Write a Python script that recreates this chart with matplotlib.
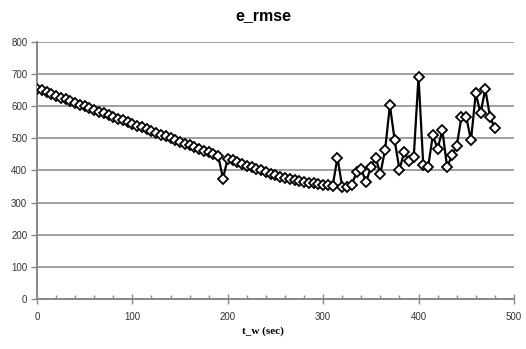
import matplotlib
matplotlib.use('Agg')
import matplotlib.pyplot as plt
from matplotlib.ticker import MultipleLocator

# tiempo (s) y error rmse
t_w = list(range(0, 485, 5))
e_rmse = [655, 649, 644, 638, 633, 627, 622, 616, 611, 605,
          600, 594, 589, 583, 578, 572, 567, 561, 556, 550,
          545, 539, 534, 528, 523, 517, 512, 506, 501, 495,
          490, 484, 479, 473, 468, 462, 457, 451, 446, 375,
          437, 432, 426, 421, 415, 410, 405, 400, 395, 390,
          385, 381, 377, 373, 370, 367, 364, 362, 360, 358,
          356, 354, 352, 440, 350, 348, 355, 395, 405, 363,
          410, 440, 390, 465, 603, 494, 403, 457, 431, 442,
          692, 416, 410, 509, 468, 525, 410, 447, 475, 567,
          567, 494, 640, 578, 653, 567, 531]

y_ticks = list(range(0, 900, 100))
x_ticks = list(range(0, 600, 100))

fig = plt.figure(figsize=(5.26, 3.49), dpi=100)
ax = fig.add_axes([0.0703, 0.1433, 0.9067, 0.7364])

ax.plot(t_w, e_rmse, color='black', linewidth=1.6, marker='D', markersize=4.8,
        markerfacecolor='white', markeredgecolor='black', markeredgewidth=1.3, zorder=3)

ax.set_xlim(0, 500)
ax.set_ylim(0, 800)
ax.set_xticks(x_ticks)
ax.set_yticks(y_ticks)
ax.xaxis.set_minor_locator(MultipleLocator(20))

gris = '#a0a0a0'
ax.yaxis.grid(True, color=gris, linewidth=1.4)
ax.set_axisbelow(True)
for s in ['top', 'right']:
    ax.spines[s].set_visible(False)
for s in ['left', 'bottom']:
    ax.spines[s].set_color('#888888')
    ax.spines[s].set_linewidth(1.4)

ax.tick_params(axis='y', length=4, width=1, color='#888888', labelsize=7, pad=3,
               labelcolor='#333333')
ax.tick_params(axis='x', which='major', direction='inout', length=7, width=1, color='#888888',
               labelsize=7, pad=6, labelcolor='#333333')
ax.tick_params(axis='x', which='minor', direction='in', length=3, width=1, color='#888888')
for lab in ax.get_xticklabels() + ax.get_yticklabels():
    lab.set_family('Liberation Sans')

fig.text(0.5, 0.955, 'e_rmse', ha='center', va='center', fontsize=11.5,
         fontweight='bold', family='Liberation Sans')
fig.text(0.5, 0.05, 't_w (sec)', ha='center', va='center', fontsize=8,
         fontweight='bold', family='Liberation Serif')

plt.savefig('out.png', dpi=100)
plt.close()
